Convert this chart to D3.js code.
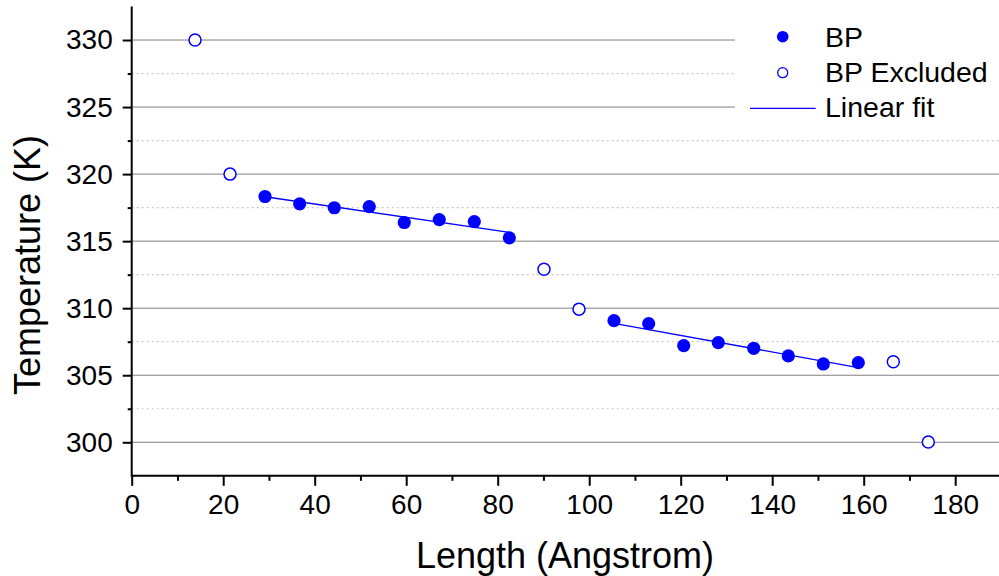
<!DOCTYPE html>
<html><head><meta charset="utf-8">
<script src="https://cdn.jsdelivr.net/npm/d3@7"></script>
<style>body{margin:0;background:#fff}svg{display:block}text{font-family:"Liberation Sans",Arial,sans-serif;fill:#000}</style>
</head><body><svg id="c" width="999" height="576"></svg>
<script>
// Data
const bpX = [29.14, 36.72, 44.28, 51.93, 59.58, 67.23, 74.89, 82.54, 105.42, 113.0, 120.66, 128.22, 135.96, 143.52, 151.17, 158.82];
const bpY = [318.33, 317.78, 317.49, 317.58, 316.39, 316.61, 316.46, 315.25, 309.07, 308.85, 307.21, 307.43, 307.01, 306.44, 305.84, 305.94];
const exclX = [13.84, 21.49, 90.12, 97.77, 166.47, 174.12];
const exclY = [330.0, 320.0, 312.9, 309.93, 306.01, 300.02];
const fit1X = [29.14, 82.54], fit1Y = [318.31, 315.65];
const fit2X = [105.42, 158.82], fit2Y = [308.87, 305.57];
const xTicks = [0, 20, 40, 60, 80, 100, 120, 140, 160, 180];
const xMinor = [10, 30, 50, 70, 90, 110, 130, 150, 170];
const yTicks = [300, 305, 310, 315, 320, 325, 330];
const yMinor = [302.5, 307.5, 312.5, 317.5, 322.5, 327.5];
const legendLabels = ["BP", "BP Excluded", "Linear fit"];
const xTitle = "Length (Angstrom)", yTitle = "Temperature (K)";

const svg = d3.select("#c");
const x = d3.scaleLinear().domain([0, 190]).range([131.7, 131.7 + 190 * 4.575]);
const y = d3.scaleLinear().domain([297.5, 332.5]).range([475.8, 6.5]);
const blue = "#0000ff";

// gridlines
svg.append("g").selectAll("line").data(yMinor).join("line")
  .attr("x1", x(0)).attr("x2", 999).attr("y1", d => y(d)).attr("y2", d => y(d))
  .attr("stroke", "#c8c8c8").attr("stroke-width", 1.2).attr("stroke-dasharray", "2,3");
svg.append("g").selectAll("line").data(yTicks).join("line")
  .attr("x1", x(0)).attr("x2", 999).attr("y1", d => y(d)).attr("y2", d => y(d))
  .attr("stroke", "#808080").attr("stroke-width", 1);

// legend background
svg.append("rect").attr("x", 735).attr("y", 0).attr("width", 270).attr("height", 125).attr("fill", "#fff");

// axes
const gx = svg.append("g").attr("transform", `translate(0,${y(297.5)})`);
gx.call(d3.axisBottom(x).tickValues(xTicks).tickSize(10).tickPadding(8).tickFormat(d3.format("d")));
gx.append("g").call(d3.axisBottom(x).tickValues(xMinor).tickSize(5).tickFormat(""));
const gy = svg.append("g").attr("transform", `translate(${x(0)},0)`);
gy.call(d3.axisLeft(y).tickValues(yTicks).tickSize(9).tickPadding(10).tickFormat(d3.format("d")));
gy.append("g").call(d3.axisLeft(y).tickValues(yMinor).tickSize(4).tickFormat(""));
svg.selectAll(".domain").remove();
svg.selectAll(".tick line").attr("stroke", "#000").attr("stroke-width", 2);
svg.selectAll(".tick text").attr("font-size", 28).attr("font-family", "Liberation Sans, Arial, sans-serif").attr("fill", "#000");
svg.append("line").attr("x1", x(0)).attr("x2", 999).attr("y1", y(297.5)).attr("y2", y(297.5)).attr("stroke", "#000").attr("stroke-width", 2);
svg.append("line").attr("x1", x(0)).attr("x2", x(0)).attr("y1", y(297.5) + 1).attr("y2", y(332.5)).attr("stroke", "#000").attr("stroke-width", 2);

// titles
svg.append("text").attr("x", 565).attr("y", 568).attr("text-anchor", "middle").attr("font-size", 36).text(xTitle);
svg.append("text").attr("transform", `translate(40,265) rotate(-90)`).attr("text-anchor", "middle").attr("font-size", 36).text(yTitle);

// fit lines
const line = d3.line().x(d => x(d[0])).y(d => y(d[1]));
[[fit1X, fit1Y], [fit2X, fit2Y]].forEach(([fx, fy]) => {
  svg.append("path").attr("d", line(fx.map((v, i) => [v, fy[i]]))).attr("fill", "none").attr("stroke", blue).attr("stroke-width", 1.3);
});

// points
svg.append("g").selectAll("circle").data(bpX).join("circle")
  .attr("cx", d => x(d)).attr("cy", (d, i) => y(bpY[i])).attr("r", 6.6).attr("fill", blue);
svg.append("g").selectAll("circle").data(exclX).join("circle")
  .attr("cx", d => x(d)).attr("cy", (d, i) => y(exclY[i])).attr("r", 6).attr("fill", "#fff").attr("stroke", blue).attr("stroke-width", 1.5);

// legend
const lg = svg.append("g");
lg.append("circle").attr("cx", 782.7).attr("cy", 36.7).attr("r", 5.8).attr("fill", blue);
lg.append("circle").attr("cx", 782.7).attr("cy", 72.7).attr("r", 5).attr("fill", "#fff").attr("stroke", blue).attr("stroke-width", 1.3);
lg.append("line").attr("x1", 750).attr("x2", 815.7).attr("y1", 108.3).attr("y2", 108.3).attr("stroke", blue).attr("stroke-width", 1.3);
[46.7, 81.7, 117.3].forEach((by, i) => {
  lg.append("text").attr("x", 825).attr("y", by).attr("font-size", 28.5).text(legendLabels[i]);
});
</script></body></html>
